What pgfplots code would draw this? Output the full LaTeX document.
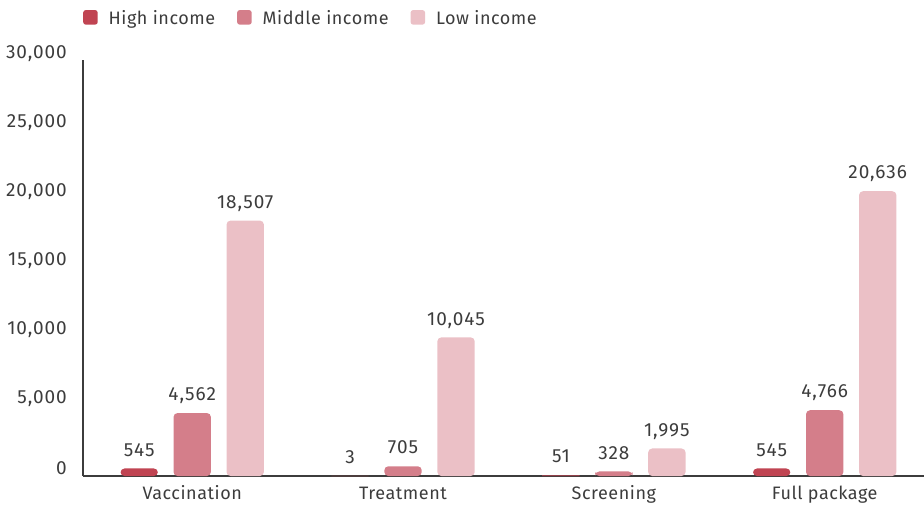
\documentclass[border=0pt]{standalone}
\usepackage{pgfplots}
\pgfplotsset{compat=1.18}
\usepackage{fontspec}
\setmainfont[LetterSpace=3]{Fira Sans}
\newfontfamily\numf[LetterSpace=5]{Fira Sans}
\definecolor{hi}{RGB}{192,68,82}
\definecolor{mid}{RGB}{212,126,138}
\definecolor{lo}{RGB}{235,192,198}
\definecolor{txt}{RGB}{60,60,60}
\newcommand{\lf}{\fontsize{18}{21}\selectfont}
\newcommand{\nf}{\numf\fontsize{19}{22}\selectfont}
\begin{document}
\lf
\begin{tikzpicture}
\begin{axis}[
  scale only axis, width=841pt, height=416pt,
  xmin=-0.518, xmax=3.471, ymin=0, ymax=30145,
  axis x line=bottom, axis y line=left,
  axis line style={-, line width=1.3pt, color=txt},
  ybar, bar width=37.4pt,
  xtick={0,1,2,3}, xticklabels={Vaccination,Treatment,Screening,Full package},
  ytick={0,5000,...,30000},
  major tick length=0pt,
  scaled y ticks=false,
  /pgf/number format/.cd, fixed, precision=0, 1000 sep={,}, assume math mode=true, /pgfplots/.cd,
  tick label style={text=txt},
  yticklabel style={font=\nf, xshift=-10pt, yshift=8pt},
  xticklabel style={font=\lf, anchor=base, yshift=-23pt},
  clip=false,
  nodes near coords,
  every node near coord/.append style={font=\nf, text=txt, anchor=base, yshift=12.3pt},
  legend columns=3,
  legend style={draw=none, fill=none, at={(0,1)}, anchor=south west, yshift=31pt, inner sep=0pt,
    font=\lf, text=txt, nodes={anchor=base west},
    /tikz/every odd column/.append style={column sep=9pt},
    /tikz/every even column/.append style={column sep=20pt}},
  legend image code/.code={\fill[rounded corners=2.5pt] (0pt,-0.5pt) rectangle (14.5pt,14pt);},
  every axis plot/.append style={draw=none, rounded corners=4pt},
]
\addplot[fill=hi, bar shift=-53pt] coordinates {(0,545) (3,545)};
\addlegendentry{High income}
\addplot[fill=mid, bar shift=0pt] coordinates {(0,4562) (1,705) (2,328) (3,4766)};
\addlegendentry{Middle income}
\addplot[fill=lo, bar shift=53pt] coordinates {(0,18507) (1,10045) (2,1995) (3,20636)};
\addlegendentry{Low income}
\addplot[fill=hi, bar shift=-53pt, sharp corners, forget plot] coordinates {(1,3) (2,51)};
\end{axis}
\pgfresetboundingbox
\path (current axis.south west) ++(-83pt,-31pt) rectangle ++(924pt,507pt);
\end{tikzpicture}
\end{document}
